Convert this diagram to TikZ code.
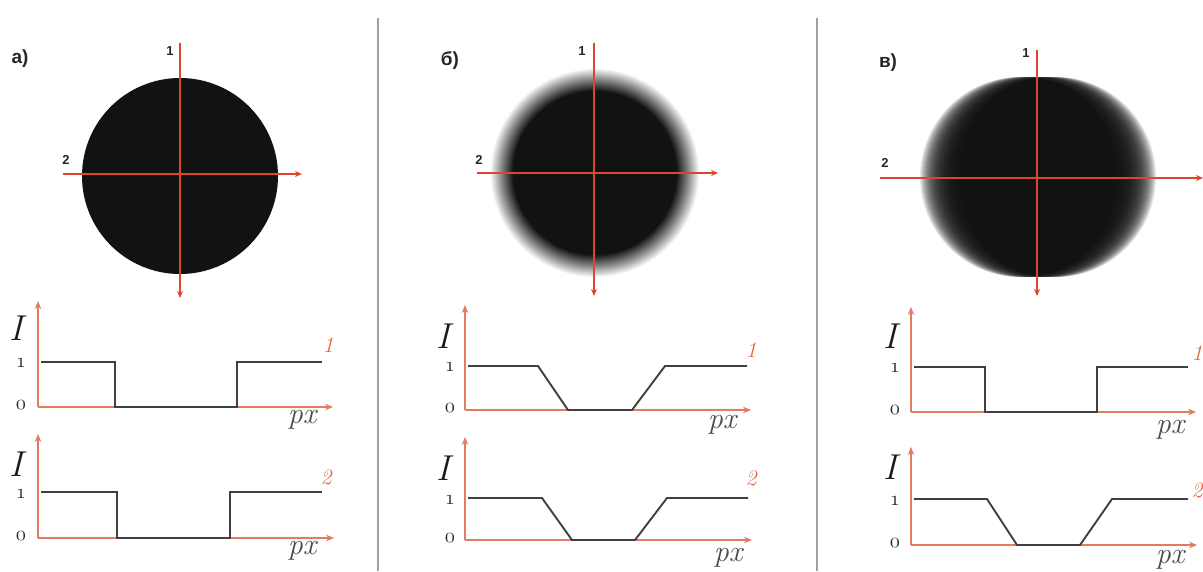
\documentclass[tikz,border=0pt]{standalone}
\usepackage{fontspec}
\newfontfamily\labelsans{Liberation Sans}
\usetikzlibrary{arrows.meta}
\definecolor{crossred}{HTML}{E0452B}
\definecolor{axisred}{HTML}{E57A63}
\definecolor{curvegray}{HTML}{404040}
\definecolor{sepgray}{HTML}{A0A0A0}
\definecolor{blob}{HTML}{121212}
\definecolor{numred}{HTML}{E8603C}
\tikzset{
  crossline/.style={draw=crossred, line width=2.2pt, -{Stealth[length=7pt,width=6pt]}},
  axisline/.style={draw=axisred, line width=1.9pt, -{Stealth[length=8pt,width=6.5pt]}},
  curve/.style={draw=curvegray, line width=1.9pt, line join=miter},
  panellabel/.style={font=\labelsans\bfseries\fontsize{19}{19}\selectfont, text=black!85},
  crosslabel/.style={font=\labelsans\bfseries\fontsize{13}{13}\selectfont, text=black!85},
  biglabel/.style={font=\itshape\fontsize{36}{36}\selectfont, text=black!90},
  pxlabel/.style={font=\itshape\fontsize{30}{30}\selectfont, text=black!70},
  ticklabel/.style={font=\fontsize{20}{20}\selectfont, text=black!85, inner sep=0pt},
  numlabel/.style={font=\itshape\fontsize{22}{22}\selectfont, text=numred},
  sep/.style={draw=sepgray, line width=1.6pt}
}
\begin{document}
\begin{tikzpicture}[x=1pt,y=-1pt]
\useasboundingbox (0,0) rectangle (1203,571);
\fill[white] (0,0) rectangle (1203,571);

% separators
\coordinate (s1t) at (378,18); \coordinate (s1b) at (378,571);
\coordinate (s2t) at (817,18); \coordinate (s2b) at (817,571);
\draw[sep] (s1t) -- (s1b);
\draw[sep] (s2t) -- (s2b);

%%%%%%%%%%%%%%%% Panel a %%%%%%%%%%%%%%%%
\node[panellabel] (la) at (20,59) {а)};
\coordinate (ca) at (180,176);
\fill[blob] (ca) circle (98pt);
\coordinate (a1t) at (180,43); \coordinate (a1b) at (180,298);
\coordinate (a2l) at (63,174); \coordinate (a2r) at (302,174);
\draw[crossline] (a1t) -- (a1b);
\draw[crossline] (a2l) -- (a2r);
\node[crosslabel] (na1) at (170,51) {1};
\node[crosslabel] (na2) at (66,160) {2};

% graph a1
\coordinate (oa1) at (38,407);
\coordinate (ya1) at (38,301);
\coordinate (xa1) at (333,407);
\draw[axisline] (oa1) -- (ya1);
\draw[axisline] (oa1) -- (xa1);
\draw[curve] (41,362) -- (115,362) -- (115,407) -- (237,407) -- (237,362) -- (322,362);
\node[biglabel] (Ia1) at (16,328) {I};
\node[ticklabel] (ta11) at (21,363) {$\mathnormal{1}$};
\node[ticklabel] (ta10) at (21,405) {$\mathnormal{0}$};
\node[pxlabel] (pxa1) at (302,420) {px};
\node[numlabel] (ka1) at (328,345) {1};

% graph a2
\coordinate (oa2) at (38,538);
\coordinate (ya2) at (38,434);
\coordinate (xa2) at (334,538);
\draw[axisline] (oa2) -- (ya2);
\draw[axisline] (oa2) -- (xa2);
\draw[curve] (41,492) -- (117,492) -- (117,538) -- (230,538) -- (230,492) -- (322,492);
\node[biglabel] (Ia2) at (16,464) {I};
\node[ticklabel] (ta21) at (21,494) {$\mathnormal{1}$};
\node[ticklabel] (ta20) at (21,536) {$\mathnormal{0}$};
\node[pxlabel] (pxa2) at (302,551) {px};
\node[numlabel] (ka2) at (326,477) {2};

%%%%%%%%%%%%%%%% Panel b %%%%%%%%%%%%%%%%
\node[panellabel] (lb) at (450,61) {б)};
\coordinate (cb) at (595,173);
\foreach \r [evaluate=\r as \op using 1/(\r-81)] in {104,103,...,82}
  \fill[blob, opacity=\op] (cb) circle (\r pt);
\coordinate (b1t) at (594,43); \coordinate (b1b) at (594,296);
\coordinate (b2l) at (477,173); \coordinate (b2r) at (718,173);
\draw[crossline] (b1t) -- (b1b);
\draw[crossline] (b2l) -- (b2r);
\node[crosslabel] (nb1) at (582,51) {1};
\node[crosslabel] (nb2) at (479,160) {2};

% graph b1
\coordinate (ob1) at (465,410);
\coordinate (yb1) at (465,305);
\coordinate (xb1) at (751,410);
\draw[axisline] (ob1) -- (yb1);
\draw[axisline] (ob1) -- (xb1);
\draw[curve] (468,366) -- (538,366) -- (568,410) -- (632,410) -- (665,366) -- (747,366);
\node[biglabel] (Ib1) at (443,336) {I};
\node[ticklabel] (tb11) at (450,367) {$\mathnormal{1}$};
\node[ticklabel] (tb10) at (450,408) {$\mathnormal{0}$};
\node[pxlabel] (pxb1) at (722,425) {px};
\node[numlabel] (kb1) at (751,350) {1};

% graph b2
\coordinate (ob2) at (465,540);
\coordinate (yb2) at (465,437);
\coordinate (xb2) at (752,540);
\draw[axisline] (ob2) -- (yb2);
\draw[axisline] (ob2) -- (xb2);
\draw[curve] (468,498) -- (542,498) -- (572,540) -- (635,540) -- (667,498) -- (748,498);
\node[biglabel] (Ib2) at (443,468) {I};
\node[ticklabel] (tb21) at (450,500) {$\mathnormal{1}$};
\node[ticklabel] (tb20) at (450,538) {$\mathnormal{0}$};
\node[pxlabel] (pxb2) at (728,558) {px};
\node[numlabel] (kb2) at (751,478) {2};

%%%%%%%%%%%%%%%% Panel c %%%%%%%%%%%%%%%%
\node[panellabel] (lc) at (888,63) {в)};
\coordinate (cc) at (1038,177);
\foreach \dx in {-18,-17,...,18} \fill[blob, opacity=0.09] (cc) ++(\dx,0) circle (100pt);
\fill[blob] (cc) ellipse [x radius=78pt, y radius=97pt];
\coordinate (c1t) at (1037,50); \coordinate (c1b) at (1037,296);
\coordinate (c2l) at (880,178); \coordinate (c2r) at (1203,178);
\draw[crossline] (c1t) -- (c1b);
\draw[crossline] (c2l) -- (c2r);
\node[crosslabel] (nc1) at (1026,53) {1};
\node[crosslabel] (nc2) at (885,163) {2};

% graph c1
\coordinate (oc1) at (911,412);
\coordinate (yc1) at (911,307);
\coordinate (xc1) at (1196,412);
\draw[axisline] (oc1) -- (yc1);
\draw[axisline] (oc1) -- (xc1);
\draw[curve] (914,367) -- (985,367) -- (985,412) -- (1097,412) -- (1097,367) -- (1188,367);
\node[biglabel] (Ic1) at (890,336) {I};
\node[ticklabel] (tc11) at (895,368) {$\mathnormal{1}$};
\node[ticklabel] (tc10) at (895,410) {$\mathnormal{0}$};
\node[pxlabel] (pxc1) at (1170,430) {px};
\node[numlabel] (kc1) at (1197,353) {1};

% graph c2
\coordinate (oc2) at (911,545);
\coordinate (yc2) at (911,447);
\coordinate (xc2) at (1197,545);
\draw[axisline] (oc2) -- (yc2);
\draw[axisline] (oc2) -- (xc2);
\draw[curve] (914,499) -- (987,499) -- (1017,545) -- (1080,545) -- (1112,499) -- (1188,499);
\node[biglabel] (Ic2) at (890,467) {I};
\node[ticklabel] (tc21) at (895,501) {$\mathnormal{1}$};
\node[ticklabel] (tc20) at (895,543) {$\mathnormal{0}$};
\node[pxlabel] (pxc2) at (1170,560) {px};
\node[numlabel] (kc2) at (1197,490) {2};
\end{tikzpicture}
\end{document}
